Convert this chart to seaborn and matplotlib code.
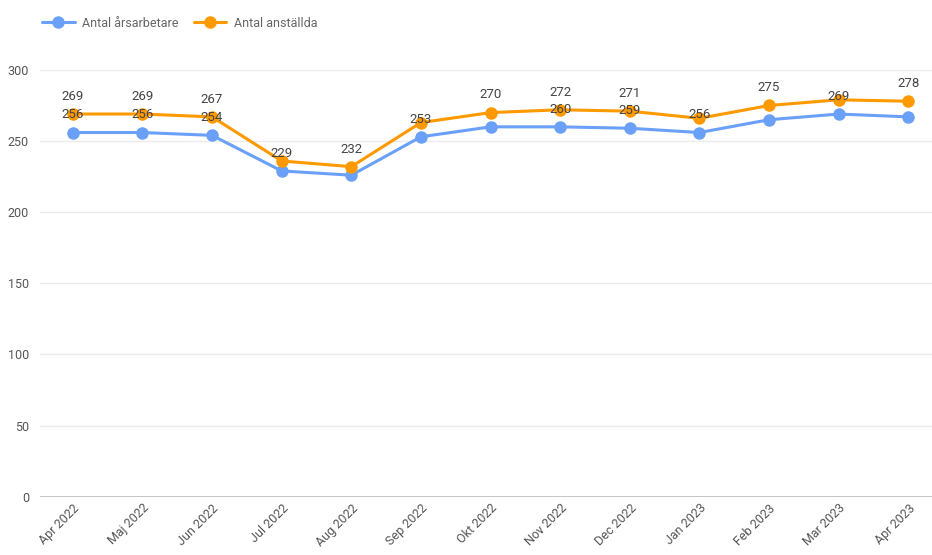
import pandas as pd
import matplotlib.pyplot as plt
import seaborn as sns

# Data
months = ['Apr 2022', 'Maj 2022', 'Jun 2022', 'Jul 2022', 'Aug 2022', 'Sep 2022',
          'Okt 2022', 'Nov 2022', 'Dec 2022', 'Jan 2023', 'Feb 2023', 'Mar 2023', 'Apr 2023']
arsarbetare = [256, 256, 254, 229, 226, 253, 260, 260, 259, 256, 265, 269, 267]
anstallda = [269, 269, 267, 236, 232, 263, 270, 272, 271, 266, 275, 279, 278]
# which data labels are visible in the original (others hidden by overlap)
show_blue = [1, 1, 1, 1, 0, 1, 0, 1, 1, 1, 0, 1, 0]
show_orange = [1, 1, 1, 0, 1, 0, 1, 1, 1, 0, 1, 0, 1]

s1 = 'Antal årsarbetare'
s2 = 'Antal anställda'
df = pd.DataFrame({
    'month': months * 2,
    'value': arsarbetare + anstallda,
    'series': [s1] * len(months) + [s2] * len(months),
})

blue = '#6aa0f8'
orange = '#ff9900'

sns.set_style('white')
plt.rcParams['font.family'] = ['Roboto', 'DejaVu Sans']

fig = plt.figure(figsize=(9.32, 5.55), dpi=100)
ax = fig.add_axes([0.043, 0.105, 0.957, 0.769])

sns.lineplot(data=df, x='month', y='value', hue='series', palette=[blue, orange],
             marker='o', markersize=9, markeredgewidth=0, linewidth=2.2,
             sort=False, ax=ax, legend=True)

# data labels
for vals, show in [(arsarbetare, show_blue), (anstallda, show_orange)]:
    for i, (v, s) in enumerate(zip(vals, show)):
        if s:
            ax.annotate(str(v), (i, v), xytext=(0, 8), textcoords='offset points',
                        ha='center', va='bottom', fontsize=9.5, color='#444444')

ax.set_ylim(0, 300)
ax.set_xlim(-0.47, 12.34)
ax.set_yticks(range(0, 301, 50))
ax.grid(axis='y', color='#ebebeb', linewidth=1)
ax.axhline(0, color='#bbbbbb', linewidth=1.2)
ax.set_xlabel('')
ax.set_ylabel('')
for sp in ax.spines.values():
    sp.set_visible(False)
ax.tick_params(axis='both', length=0, labelsize=9, labelcolor='#555555')
ax.tick_params(axis='y', pad=8)
plt.setp(ax.get_xticklabels(), rotation=45, ha='right', rotation_mode='anchor')

# legend on top
handles, labels = ax.get_legend_handles_labels()
ax.get_legend().remove()
leg = fig.legend(handles, labels, loc='upper left', bbox_to_anchor=(0.033, 0.99),
                 ncol=2, frameon=False, fontsize=9, handlelength=2.6,
                 columnspacing=1.2, handletextpad=0.6)
for t in leg.get_texts():
    t.set_color('#666666')

fig.savefig('out.png', dpi=100)
